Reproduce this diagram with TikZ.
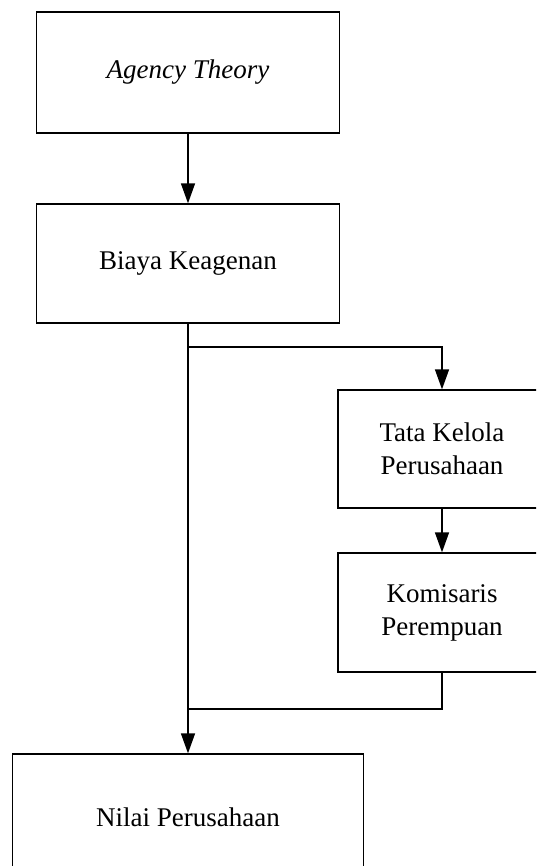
\documentclass[tikz,border=0pt]{standalone}
\usepackage{fontspec}
\setmainfont{Liberation Serif}
\usetikzlibrary{arrows.meta}
\begin{document}
\begin{tikzpicture}[x=1pt,y=-1pt,
  box/.style={draw=black, line width=1.3pt, rectangle, align=center, inner sep=0pt,
    font=\fontsize{27}{33}\selectfont},
  conn/.style={line width=1.4pt, draw=black},
  arr/.style={conn, -{Triangle[length=20pt,width=14pt]}}]
\fill[white] (0,0) rectangle (536,866);
\useasboundingbox (0,0) rectangle (536,866);
\clip (0,0) rectangle (536,866);
\node[box, minimum width=303.4pt, minimum height=121pt] (a) at (188,72.5) {\itshape Agency Theory};
\node[box, minimum width=303.4pt, minimum height=119pt] (b) at (188,263.5) {Biaya Keagenan};
\node[box, minimum width=208pt, minimum height=118pt] (c) at (442,449) {Tata Kelola\\Perusahaan};
\node[box, minimum width=208pt, minimum height=119pt] (d) at (442,612.5) {Komisaris\\Perempuan};
\node[box, minimum width=350.4pt, minimum height=127pt] (e) at (188,817.5) {Nilai Perusahaan};
\coordinate (split) at (188,347);
\coordinate (join) at (188,709);
\draw[arr] (a) -- (b);
\draw[arr] (b.south) -- (e.north);
\draw[arr] (split) -| (c.north);
\draw[arr] (c) -- (d);
\draw[conn] (d.south) |- (join);
\end{tikzpicture}
\end{document}
